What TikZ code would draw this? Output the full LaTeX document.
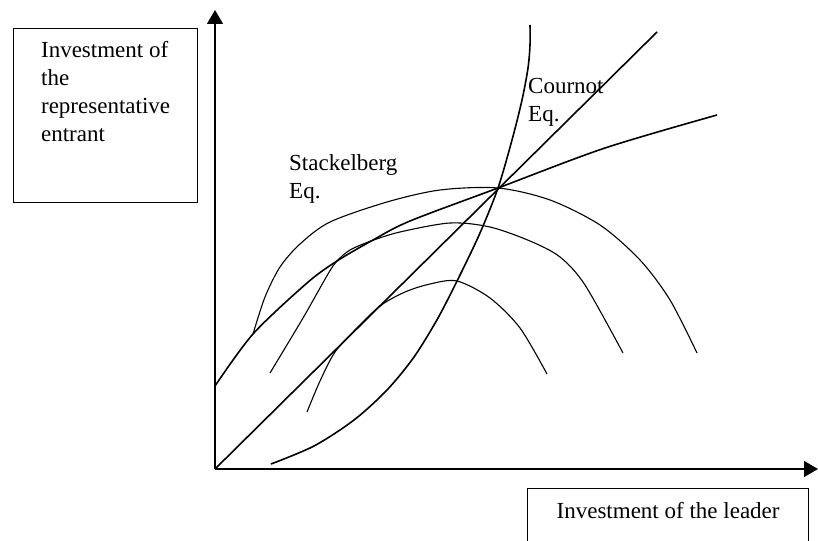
\documentclass[tikz,border=0pt]{standalone}
\usepackage{fontspec}
\setmainfont{Liberation Serif}
\usetikzlibrary{positioning,arrows.meta}

\begin{document}
\begin{tikzpicture}
    [x=1pt,y=-1pt,
     axis/.style={line width=1.4pt,-{Triangle[width=16pt,length=14pt]}},
     reaction/.style={line width=1.6pt},
     isoprofit/.style={line width=1.1pt},
     labelbox/.style={rectangle,draw,line width=1.2pt,anchor=north west,
       font=\fontsize{23}{28}\selectfont},
     eqtext/.style={font=\fontsize{23}{28}\selectfont,align=left,anchor=base west,inner sep=0pt}]

    \useasboundingbox (0,0) rectangle (818,540);

    \coordinate (origin) at (215,469);
    \coordinate (ytip) at (215,10);
    \coordinate (xtip) at (818,469);
    \coordinate (cournot) at (498,188);
    \coordinate (stackelberg) at (337,261);
    \coordinate (diagend) at (657,32);

    % axes
    \draw[axis] (origin) -- (ytip);
    \draw[axis] (origin) -- (xtip);

    % axis labels
    \node[labelbox,align=left,minimum width=184pt,inner xsep=16pt,inner ysep=13pt,
          text depth=48pt] (entrant) at (13,28)
      {Investment of\\the\\representative\\entrant};
    \node[labelbox,align=center,minimum width=281pt,inner xsep=0pt,inner ysep=14pt,
          text depth=60pt] (leader) at (527,488) {Investment of the leader};

    % reaction curves
    \draw[reaction] plot[smooth] coordinates {(215,386) (253,334) (307,283) (stackelberg)
      (373,240) (410,221) (cournot) (605,148) (717,115)};
    \draw[reaction] plot[smooth] coordinates {(271,464) (314,446) (354,420) (387,390)
      (414,357) (438,318) (460,275) (480,233) (cournot) (512,140) (522,100) (528,68)
      (530,45) (530,25)};
    \draw[reaction] (origin) -- (diagend);

    % isoprofit curves
    \draw[isoprofit] plot[smooth] coordinates {(253,334) (265,297) (280,267) (300,244)
      (330,222) (387,202) (440,190) (cournot) (550,200) (600,225) (640,260) (670,300)
      (697,353)};
    \draw[isoprofit] plot[smooth] coordinates {(270,373) (303,318) (328,274) (stackelberg)
      (350,250) (371,241) (400,232) (450,223) (490,227) (530,241) (560,257) (585,285)
      (623,353)};
    \draw[isoprofit] plot[smooth] coordinates {(307,412) (320,381) (335,352) (355,330)
      (380,306) (405,292) (430,284) (457,281) (490,298) (520,328) (547,374)};

    % equilibria
    \node[eqtext] (stackel) at (289,198) {Stackelberg\\Eq.};
    \node[eqtext] (cournotlabel) at (528,122) {Cournot\\Eq.};
\end{tikzpicture}
\end{document}
